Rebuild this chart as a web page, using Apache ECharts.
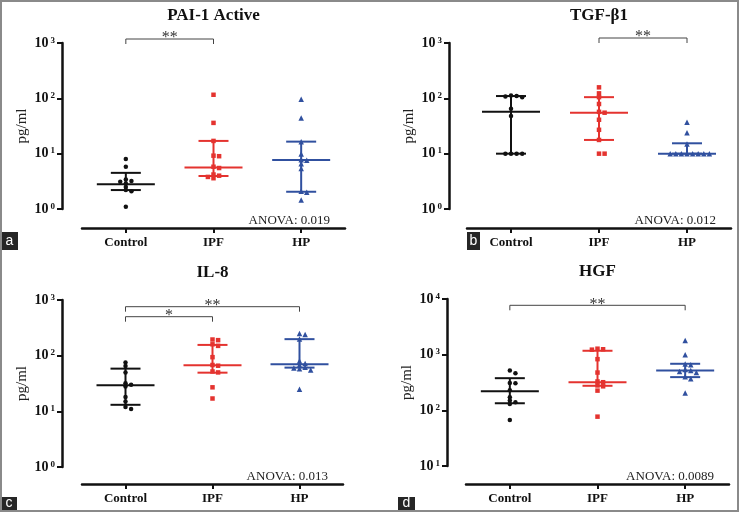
<!DOCTYPE html>
<html>
<head>
<meta charset="utf-8">
<script src="https://cdn.jsdelivr.net/npm/echarts@6/dist/echarts.min.js"></script>
<style>
html,body{margin:0;padding:0;background:#fff;}
#chart{width:739px;height:512px;}
</style>
</head>
<body>
<div id="chart"></div>
<script>
// ---------- data ----------
const categories = ['Control', 'IPF', 'HP'];
const panelTitles = ['PAI-1 Active', 'TGF-β1', 'IL-8', 'HGF'];
const panelLetters = ['a', 'b', 'c', 'd'];
const anovaLabels = ['ANOVA: 0.019', 'ANOVA: 0.012', 'ANOVA: 0.013', 'ANOVA: 0.0089'];
const yAxisName = 'pg/ml';
const yMin = [1, 1, 1, 10];
const yMax = [1000, 1000, 1000, 10000];

const pai1Control = [8.0, 5.8, 3.4, 3.2, 3.1, 2.9, 2.5, 2.2, 2.1, 1.1];
const pai1IPF = [116, 36, 17, 9.2, 9.0, 5.8, 5.5, 4.2, 4.0, 3.8, 3.6];
const pai1HP = [96, 44, 16.5, 9.9, 7.8, 7.6, 6.6, 5.4, 2.1, 2.0, 1.45];
const pai1Median = [2.8, 5.6, 7.7];
const pai1Q1 = [2.2, 3.95, 2.05];
const pai1Q3 = [4.5, 17, 16.5];

const tgfControl = [112, 110, 108, 105, 65, 48, 10, 10, 10, 10];
const tgfIPF = [158, 123, 105, 79, 57, 55, 41, 27, 17.7, 10, 10];
const tgfHP = [37, 24, 15, 10, 10, 10, 10, 10, 10, 10, 10];
const tgfMedian = [57, 55, 10];
const tgfQ1 = [10, 17.7, 10];
const tgfQ3 = [110, 105, 15.4];

const il8Control = [75, 65, 50, 32, 30, 28, 18, 15, 12, 11];
const il8IPF = [195, 190, 160, 150, 94, 68, 66, 52, 50, 27, 17];
const il8HP = [250, 240, 200, 80, 72, 68, 62, 60, 58, 55, 25];
const il8Median = [29.3, 67, 70];
const il8Q1 = [13.1, 49.5, 61];
const il8Q3 = [58.5, 156, 198];

const hgfControl = [520, 465, 310, 305, 230, 172, 150, 140, 130, 67];
const hgfIPF = [1280, 1250, 1230, 830, 477, 330, 320, 280, 270, 226, 77];
const hgfHP = [1800, 1000, 680, 660, 540, 520, 500, 480, 400, 370, 204];
const hgfMedian = [221, 321, 519];
const hgfQ1 = [134, 276, 395];
const hgfQ3 = [378, 1175, 686];

// significance brackets: [panel, fromCategory, toCategory, label]
const brackets = [
  [0, 0, 1, '**'],
  [1, 1, 2, '**'],
  [2, 0, 2, '**'],
  [2, 0, 1, '*'],
  [3, 0, 2, '**']
];

// ---------- layout / style ----------
const panelPoints = [
  [pai1Control, pai1IPF, pai1HP],
  [tgfControl, tgfIPF, tgfHP],
  [il8Control, il8IPF, il8HP],
  [hgfControl, hgfIPF, hgfHP]
];
const panelStats = [
  [pai1Median, pai1Q1, pai1Q3],
  [tgfMedian, tgfQ1, tgfQ3],
  [il8Median, il8Q1, il8Q3],
  [hgfMedian, hgfQ1, hgfQ3]
];
const grids = [
  {left: 82, top: 43, width: 263, height: 166, yOff: 20, xOff: 19},
  {left: 467, top: 43, width: 264, height: 166, yOff: 18, xOff: 19},
  {left: 82, top: 300, width: 261, height: 167, yOff: 20, xOff: 17},
  {left: 466, top: 299, width: 263, height: 167, yOff: 19, xOff: 18}
];
const bracketY = [-4, -5, 6.7, 16.7, 6.3];
const letterBoxes = [[1, 232, 17, 18], [467, 232, 13, 18], [1, 497, 16, 13], [398, 497, 17, 13]];
const colors = ['#111111', '#e4332f', '#30509f'];
const symbols = ['circle', 'rect', 'triangle'];
const symbolSizes = [4.5, 4.5, 5.5];
const SERIF = '"Liberation Serif","Times New Roman",serif';

function jitter(values) {
  const spacing = 5.6, thr = 0.055;
  const idx = values.map((v, i) => i).sort((a, b) => values[b] - values[a]);
  const placed = [];
  const offs = new Array(values.length).fill(0);
  const order = [0, 1, -1, 2, -2, 3, -3, 4, -4, 5, -5];
  idx.forEach(i => {
    const lv = Math.log10(values[i]);
    const used = placed.filter(p => Math.abs(p.lv - lv) < thr).map(p => p.slot);
    const slot = order.find(s => used.indexOf(s) < 0);
    placed.push({lv, slot});
    offs[i] = slot * spacing;
  });
  return offs;
}

const option = {
  animation: false,
  backgroundColor: '#fff',
  grid: grids.map(g => ({left: g.left, top: g.top, width: g.width, height: g.height})),
  xAxis: grids.map((g, i) => ({
    type: 'category', gridIndex: i, data: categories, offset: g.xOff,
    axisLine: {show: true, lineStyle: {color: '#111', width: 2.5}},
    axisTick: {show: true, alignWithLabel: true, length: 5, lineStyle: {color: '#111', width: 2}},
    axisLabel: {margin: 8, color: '#111', fontFamily: SERIF, fontWeight: 'bold', fontSize: 13},
    splitLine: {show: false}
  })),
  yAxis: grids.map((g, i) => ({
    type: 'log', logBase: 10, gridIndex: i, min: yMin[i], max: yMax[i], offset: g.yOff,
    name: yAxisName, nameLocation: 'middle', nameGap: 32, nameRotate: 90,
    nameTextStyle: {fontFamily: SERIF, fontSize: 15, color: '#222'},
    axisLine: {show: true, lineStyle: {color: '#111', width: 2.5}},
    axisTick: {show: true, length: 5, lineStyle: {color: '#111', width: 2}},
    minorTick: {show: false},
    splitLine: {show: false},
    axisLabel: {
      margin: 7,
      formatter: v => '{b|10}{s|' + Math.round(Math.log10(v)) + '}',
      rich: {
        b: {fontFamily: SERIF, fontWeight: 'bold', fontSize: 14, color: '#111'},
        s: {fontFamily: SERIF, fontWeight: 'bold', fontSize: 9, color: '#111', verticalAlign: 'top', padding: [0, 0, 0, 2]}
      }
    }
  })),
  series: []
};

panelStats.forEach((st, p) => {
  option.series.push({
    type: 'custom', xAxisIndex: p, yAxisIndex: p, z: 2,
    encode: {x: 0, y: [1, 2, 3]},
    data: categories.map((c, k) => [k, st[0][k], st[1][k], st[2][k]]),
    renderItem: (params, api) => {
      const k = api.value(0);
      const pm = api.coord([k, api.value(1)]);
      const p1 = api.coord([k, api.value(2)]);
      const p3 = api.coord([k, api.value(3)]);
      const style = {stroke: colors[k], lineWidth: 2};
      return {type: 'group', children: [
        {type: 'line', shape: {x1: pm[0] - 29, y1: pm[1], x2: pm[0] + 29, y2: pm[1]}, style},
        {type: 'line', shape: {x1: pm[0] - 15, y1: p1[1], x2: pm[0] + 15, y2: p1[1]}, style},
        {type: 'line', shape: {x1: pm[0] - 15, y1: p3[1], x2: pm[0] + 15, y2: p3[1]}, style},
        {type: 'line', shape: {x1: pm[0], y1: p1[1], x2: pm[0], y2: p3[1]}, style}
      ]};
    }
  });
});

panelPoints.forEach((groups, p) => {
  groups.forEach((vals, k) => {
    const offs = jitter(vals);
    option.series.push({
      type: 'scatter', xAxisIndex: p, yAxisIndex: p, z: 3,
      symbol: symbols[k], symbolSize: symbolSizes[k],
      itemStyle: {color: colors[k], opacity: 1},
      data: vals.map((v, i) => ({value: [k, v], symbolOffset: [offs[i], 0]}))
    });
  });
});

const chart = echarts.init(document.getElementById('chart'), null, {renderer: 'canvas'});
chart.setOption(option);

// annotations placed through the axes
const graphics = [];
grids.forEach((g, p) => {
  const cx = chart.convertToPixel({xAxisIndex: p, yAxisIndex: p}, [1, yMax[p]])[0];
  graphics.push({type: 'text', x: cx, y: g.top - 27, style: {text: panelTitles[p], fontFamily: SERIF, fontWeight: 'bold', fontSize: 17, fill: '#111', textAlign: 'center', textVerticalAlign: 'middle'}});
  const axisY = g.top + g.height + g.xOff;
  graphics.push({type: 'text', x: g.left + g.width - 15, y: axisY - 7, style: {text: anovaLabels[p], fontFamily: SERIF, fontSize: 13, fill: '#222', textAlign: 'right', textVerticalAlign: 'middle'}});
  const b = letterBoxes[p];
  graphics.push({type: 'rect', shape: {x: b[0], y: b[1], width: b[2], height: b[3]}, style: {fill: '#262626'}});
  graphics.push({type: 'text', x: b[0] + b[2] / 2, y: b[1] + b[3] / 2, style: {text: panelLetters[p], fontFamily: '"Liberation Sans",Arial,sans-serif', fontSize: 14, fill: '#fff', textAlign: 'center', textVerticalAlign: 'middle'}});
});
brackets.forEach((br, i) => {
  const p = br[0], g = grids[p];
  const x1 = chart.convertToPixel({xAxisIndex: p, yAxisIndex: p}, [br[1], yMax[p]])[0];
  const x2 = chart.convertToPixel({xAxisIndex: p, yAxisIndex: p}, [br[2], yMax[p]])[0];
  const y = g.top + bracketY[i];
  graphics.push({type: 'polyline', shape: {points: [[x1, y + 5], [x1, y], [x2, y], [x2, y + 5]]}, style: {stroke: '#444', lineWidth: 1, fill: 'none'}});
  graphics.push({type: 'text', x: (x1 + x2) / 2, y: y - 1, style: {text: br[3], fontFamily: SERIF, fontSize: 16, fill: '#333', textAlign: 'center', textVerticalAlign: 'middle'}});
});
graphics.push({type: 'rect', shape: {x: 1, y: 1, width: 737, height: 510}, style: {fill: 'none', stroke: '#8a8a8a', lineWidth: 2}, z: 100});
chart.setOption({graphic: graphics});
</script>
</body>
</html>
